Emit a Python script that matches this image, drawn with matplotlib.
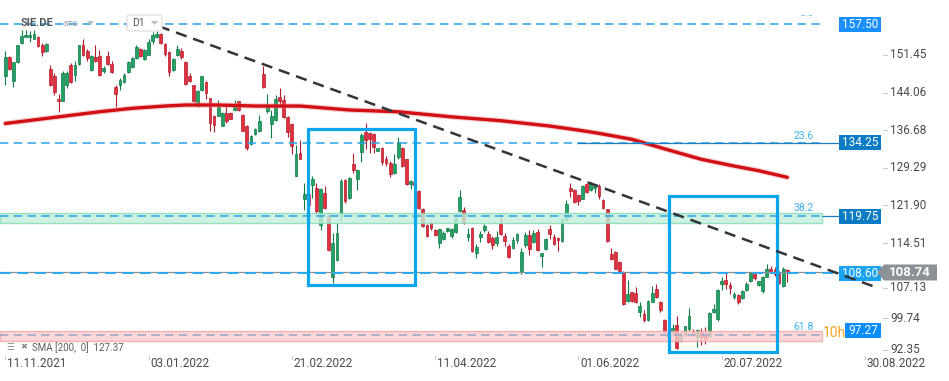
import matplotlib
matplotlib.use("Agg")
import matplotlib.pyplot as plt
import matplotlib.transforms as mtransforms
from matplotlib.patches import Rectangle, Polygon, FancyBboxPatch
import numpy as np

plt.rcParams['font.family'] = ['Roboto', 'DejaVu Sans']

# ---------------- data ----------------
date_labels = ["11.11.2021", "03.01.2022", "21.02.2022", "11.04.2022",
               "01.06.2022", "20.07.2022", "30.08.2022"]
date_label_bars = [0, 35, 70, 105, 140, 175, 210]

opens = [147.27, 151.06, 146.29, 150.0, 153.8, 154.98, 154.92, 154.65, 154.98, 153.48,
         152.17, 148.77, 147.27, 142.9, 142.5, 145.5, 149.56, 147.6, 149.69, 153.48,
         152.17, 148.5, 151.0, 151.3, 148.25, 151.3, 149.75, 145.1, 145.5, 146.1,
         148.1, 149.03, 150.86, 152.63, 150.73, 151.52, 154.13, 154.92, 155.64, 153.67,
         152.04, 148.44, 151.52, 152.3, 150.0, 147.27, 145.64, 142.04, 144.52, 146.16,
         143.02, 139.43, 139.56, 137.6, 140.08, 140.08, 140.67, 142.37, 139.75, 137.6,
         134.0, 136.03, 136.5, 147.8, 140.41, 137.92, 138.64, 143.15, 142.7, 139.23,
         137.82, 127.69, 132.13, 123.11, 124.2, 125.99, 125.27, 118.02, 124.29, 119.85,
         107.95, 111.22, 120.3, 126.84, 123.44, 129.98, 127.04, 132.4, 136.38, 136.19,
         135.86, 132.59, 133.24, 131.09, 130.17, 128.21, 131.41, 133.24, 130.96, 126.19,
         126.51, 124.75, 121.28, 118.02, 118.41, 117.04, 114.62, 115.4, 116.9, 115.92,
         116.71, 120.83, 121.02, 115.79, 117.56, 112.66, 115.79, 117.1, 116.38, 115.6,
         114.62, 118.54, 115.92, 113.96, 113.64, 115.14, 109.06, 114.09, 116.12, 114.75,
         116.77, 112.0, 113.31, 117.36, 115.73, 115.6, 114.94, 119.19, 125.4, 124.88,
         123.9, 123.24, 126.1, 124.95, 125.4, 125.73, 122.92, 121.16, 112.33, 112.79,
         110.83, 108.93, 103.05, 104.82, 104.69, 100.9, 100.57, 99.39, 102.99, 105.47,
         102.99, 99.39, 97.0, 96.97, 98.41, 95.21, 96.52, 97.63, 97.3, 96.0,
         96.97, 96.32, 96.32, 100.9, 99.59, 106.45, 107.3, 106.25, 103.84, 104.29,
         103.64, 105.34, 106.97, 108.41, 106.32, 105.14, 107.95, 109.39, 109.2, 108.87,
         106.0, 109.2]
highs = [152.3, 151.2, 150.1, 153.5, 156.4, 156.4, 156.1, 156.4, 155.2, 153.8,
         153.8, 149.56, 147.9, 143.87, 148.4, 148.4, 149.9, 150.2, 153.5, 154.65,
         152.7, 151.39, 153.5, 152.5, 149.2, 152.17, 150.2, 145.64, 146.94, 147.9,
         150.2, 151.0, 153.35, 152.8, 152.7, 154.65, 155.96, 156.2, 155.77, 153.8,
         152.17, 150.86, 153.35, 152.83, 150.2, 147.9, 145.64, 144.65, 147.27, 146.29,
         143.1, 139.6, 142.7, 140.28, 141.7, 140.28, 142.7, 142.5, 139.88, 137.8,
         135.83, 137.14, 139.62, 149.23, 143.8, 140.73, 143.67, 144.98, 143.54, 139.43,
         138.15, 133.7, 134.75, 126.25, 125.0, 127.69, 126.38, 125.4, 125.73, 120.5,
         116.58, 118.54, 127.17, 127.17, 127.56, 132.26, 129.13, 136.19, 138.02, 136.32,
         136.19, 133.2, 133.44, 131.61, 130.63, 131.94, 135.4, 133.44, 131.09, 126.84,
         126.8, 124.94, 121.48, 118.21, 118.87, 117.23, 117.36, 116.9, 117.56, 117.56,
         120.5, 124.88, 121.68, 117.56, 117.75, 114.29, 116.9, 118.21, 116.9, 115.92,
         116.9, 120.17, 116.58, 114.29, 115.79, 116.58, 113.64, 116.71, 117.04, 117.1,
         117.23, 112.66, 115.6, 118.02, 116.25, 115.79, 119.32, 122.98, 126.38, 125.07,
         124.09, 125.86, 126.4, 126.5, 126.06, 126.06, 123.2, 121.3, 113.64, 112.99,
         111.03, 109.07, 107.24, 104.95, 105.8, 102.86, 101.42, 103.31, 106.12, 106.45,
         103.18, 99.59, 97.5, 98.61, 100.24, 96.97, 98.28, 101.81, 97.63, 97.63,
         97.76, 97.95, 100.9, 102.53, 105.47, 107.95, 108.54, 106.91, 104.82, 104.49,
         105.34, 106.78, 108.87, 108.74, 107.1, 108.08, 110.5, 110.05, 109.8, 109.07,
         109.72, 109.39]
lows = [145.5, 148.6, 145.18, 149.9, 153.6, 154.9, 154.1, 154.6, 152.96, 151.2,
        152.0, 145.3, 143.67, 140.2, 142.37, 145.0, 145.96, 146.3, 149.56, 151.2,
        150.2, 148.4, 150.1, 147.27, 147.9, 149.56, 147.9, 141.2, 144.65, 145.96,
        147.9, 148.9, 150.67, 151.0, 150.54, 151.39, 153.6, 154.8, 153.67, 151.19,
        147.27, 148.25, 151.19, 150.73, 145.64, 146.16, 142.24, 141.19, 144.33, 142.9,
        136.5, 136.3, 139.43, 137.47, 138.12, 138.84, 140.54, 140.54, 136.5, 132.7,
        133.74, 135.83, 136.35, 144.98, 140.08, 135.18, 138.45, 141.7, 139.1, 135.3,
        131.94, 127.69, 130.96, 121.02, 121.5, 123.44, 120.5, 117.1, 121.15, 112.98,
        106.64, 111.02, 118.87, 122.46, 123.24, 128.34, 124.94, 130.43, 132.92, 132.26,
        132.13, 132.5, 129.78, 129.65, 127.56, 128.02, 130.96, 129.45, 125.86, 125.07,
        125.6, 121.28, 117.75, 115.79, 117.1, 115.92, 113.64, 115.14, 116.6, 115.6,
        116.58, 120.63, 118.21, 114.94, 112.79, 111.68, 114.75, 116.71, 114.49, 113.44,
        113.96, 116.05, 113.96, 111.68, 113.44, 114.62, 108.41, 113.83, 112.13, 114.49,
        112.98, 109.91, 113.18, 115.4, 114.09, 112.98, 114.75, 118.87, 123.64, 122.46,
        121.94, 123.11, 124.3, 124.8, 124.3, 123.1, 121.3, 114.8, 111.22, 109.39,
        108.87, 102.33, 102.86, 102.99, 102.73, 99.92, 98.93, 99.26, 102.86, 103.64,
        101.03, 96.84, 95.5, 96.65, 93.71, 95.14, 96.32, 97.3, 96.32, 94.03,
        94.56, 94.69, 96.12, 100.76, 99.26, 105.34, 105.47, 104.49, 103.51, 102.53,
        103.51, 105.14, 106.78, 107.3, 106.12, 104.69, 107.82, 108.61, 108.0, 106.45,
        105.8, 106.9]
closes = [151.06, 148.71, 150.08, 153.48, 155.24, 155.44, 155.44, 155.64, 153.22, 152.04,
          153.67, 145.5, 144.2, 142.37, 147.9, 147.9, 146.16, 149.56, 153.48, 151.39,
          150.86, 151.2, 150.2, 147.6, 148.9, 149.7, 148.05, 143.87, 146.6, 147.47,
          150.0, 150.86, 153.02, 151.19, 152.5, 154.0, 155.44, 155.64, 153.8, 151.71,
          148.05, 150.73, 152.7, 151.0, 145.77, 146.29, 142.37, 144.33, 147.27, 144.0,
          138.12, 137.8, 141.19, 140.08, 138.45, 138.97, 141.19, 140.67, 136.6, 133.1,
          135.63, 136.94, 138.45, 145.18, 141.19, 139.56, 142.82, 142.5, 139.23, 136.29,
          133.57, 131.94, 131.09, 124.09, 122.0, 127.17, 120.83, 125.07, 121.48, 113.18,
          114.49, 116.58, 126.71, 122.79, 127.36, 128.87, 128.8, 135.66, 134.75, 135.01,
          133.38, 133.11, 130.43, 130.3, 128.02, 129.98, 134.42, 129.65, 126.05, 126.64,
          125.86, 121.48, 117.88, 115.92, 117.56, 116.12, 117.23, 116.58, 117.43, 117.23,
          119.52, 123.57, 118.41, 116.25, 112.98, 113.77, 116.25, 117.88, 114.75, 114.09,
          115.79, 116.25, 114.94, 111.87, 115.14, 116.38, 112.79, 116.05, 113.44, 116.58,
          113.18, 112.53, 115.27, 116.25, 114.29, 115.14, 119.19, 122.13, 124.75, 122.59,
          122.79, 125.73, 124.5, 126.06, 125.73, 123.77, 121.48, 114.95, 111.48, 109.52,
          109.07, 102.53, 104.49, 103.18, 102.86, 102.2, 99.46, 103.12, 104.62, 103.84,
          101.42, 97.3, 96.0, 97.76, 93.84, 96.52, 98.15, 100.18, 96.84, 97.43,
          96.12, 95.67, 100.76, 101.55, 105.27, 107.1, 106.45, 105.67, 104.49, 102.99,
          105.14, 106.39, 108.61, 107.56, 107.1, 107.76, 109.39, 108.74, 108.4, 106.65,
          109.52, 108.74]

sma_bars = [0, 7, 15, 23, 31, 39, 44, 52, 58, 61, 70, 72, 84, 96, 109, 121, 133, 140,
            145, 153, 162, 170, 178, 184, 191]
sma_vals = [138.0, 138.7, 139.5, 140.3, 140.98, 141.43, 141.63, 141.63, 141.5, 141.43,
            141.43, 141.43, 140.65, 140.3, 139.3, 138.55, 137.5, 136.7, 136.07, 134.9,
            132.8, 130.97, 129.65, 128.73, 127.43]
sma_last = 127.37

y_ticks = [151.45, 144.06, 136.68, 129.29, 121.90, 114.51, 107.13, 99.74, 92.35]
fib_levels = [157.50, 134.25, 119.75, 96.4]
fib_names = ["0.0", "23.6", "38.2", "61.8"]
tag_levels = [157.50, 134.25, 119.75, 108.60, 97.27]
last_price = 108.74
trend_bars = [37.5, 212.8]
trend_prices = [157.1, 105.8]

# ---------------- layout ----------------
W, H = 949, 381
PX, X0 = 4.094, 5.3          # pixels per bar, pixel of bar 0
PPU = 5.092                  # pixels per price unit


def bx(px):
    return (px - X0) / PX


fig = plt.figure(figsize=(W / 100, H / 100), dpi=100)
fig.patch.set_facecolor('white')
ax = fig.add_axes([0, 25 / H, 1, 356 / H])
ax.set_xlim(bx(0), bx(W))
ax.set_ylim(151.45 - 301 / PPU, 151.45 + 55 / PPU)
ax.axis('off')

blend = mtransforms.blended_transform_factory(ax.transAxes, ax.transData)
blend_x = mtransforms.blended_transform_factory(ax.transData, ax.transAxes)

# ---------------- candles ----------------
o = np.array(opens); h = np.array(highs); l = np.array(lows); c = np.array(closes)
idx = np.arange(len(o))
up = c >= o
G_FACE, G_EDGE = '#22a266', '#0f7a45'
R_FACE, R_EDGE = '#e3303f', '#b31b2c'
face = np.where(up, G_FACE, R_FACE)
edge = np.where(up, G_EDGE, R_EDGE)
ax.vlines(idx, l, h, colors=edge, lw=0.8, zorder=2)
ax.bar(idx, np.maximum(np.abs(c - o), 0.15), bottom=np.minimum(o, c), width=0.68,
       color=face, edgecolor=edge, linewidth=0.5, zorder=2.1)

# ---------------- bands ----------------
ax.add_patch(Rectangle((bx(0), 118.5), bx(822) - bx(0), 2.0, fc='#c2efdc', ec='#86dbb8',
                       lw=1.0, alpha=0.82, zorder=3))
ax.add_patch(Rectangle((bx(0), 95.35), bx(822) - bx(0), 1.9, fc='#fccfcf', ec='#f4a6a6',
                       lw=1.0, alpha=0.82, zorder=3))

# ---------------- SMA ----------------
ax.plot(sma_bars, sma_vals, color='#ee8888', lw=4.0, alpha=0.4, zorder=3.4,
        solid_capstyle='round')
ax.plot(sma_bars, sma_vals, color='#d10f14', lw=2.4, zorder=3.5, solid_capstyle='round')

# ---------------- fib dashed lines ----------------
for lev, name in zip(fib_levels, fib_names):
    col = '#9aa6c6' if name == "61.8" else '#27a2e6'
    ax.hlines(lev, bx(0), bx(822), colors=col, lw=1.1, linestyles=(0, (5.5, 3.5)), zorder=4)
ax.text(bx(804), 135.6, "23.6", color='#3db0f0', fontsize=7.5, ha='center', va='center', zorder=4)
ax.text(bx(804), 121.35, "38.2", color='#3db0f0', fontsize=7.5, ha='center', va='center', zorder=4)
ax.text(bx(804), 98.1, "61.8", color='#3db0f0', fontsize=7.5, ha='center', va='center', zorder=4)
t0 = fig.text(807 / W, 1 - 13 / H, "0.0", color='#5cbdf2', fontsize=7.5, ha='center', va='center')
t0.set_clip_box(mtransforms.Bbox.from_extents(0, 0, W, H - 15))
t0.set_clip_on(True)

# solid horizontal lines
ax.hlines(134.25, bx(577), bx(840), colors='#1b7fc3', lw=0.9, zorder=4)
ax.hlines(119.75, bx(822), bx(840), colors='#1b7fc3', lw=0.9, zorder=4)
ax.hlines(last_price, bx(0), bx(840), colors='#8a8f94', lw=0.9, zorder=3.8)
ax.hlines(108.60, bx(0), bx(840), colors='#2aaaf0', lw=1.4, linestyles=(0, (5.5, 3.5)), zorder=3.9)

# ---------------- highlight boxes ----------------
ax.add_patch(Rectangle((73.9, 106.28), 100.1 - 73.9, 136.86 - 106.28, fill=False,
                       ec='#0ba6ee', lw=2.3, zorder=5))
ax.add_patch(Rectangle((162.2, 93.12), 188.4 - 162.2, 123.76 - 93.12, fill=False,
                       ec='#0ba6ee', lw=2.3, zorder=5))

# ---------------- right axis ----------------
for t in y_ticks:
    if t < 93.5:
        yy = 151.45 - 295 / PPU
    elif abs(t - 107.13) < 0.01:
        yy = 151.45 - 232.5 / PPU   # mostly tucked under the last-price tag
    else:
        yy = t
    ax.text(890 / W, yy, f"{t:.2f}", transform=blend, ha='left', va='center',
            fontsize=8.5, color='#4a4a4a', zorder=6)
    ax.plot([883 / W, 887 / W], [yy, yy], transform=blend, color='#cccccc', lw=0.8, zorder=6)

tag_colors = ['#1a8fff', '#0b7cc4', '#0b7cc4', '#19a3f0', '#0a8dff']
tag_left = [839, 839, 839, 839, 845]
th = 15 / PPU
for lev, col, xl in zip(tag_levels, tag_colors, tag_left):
    ax.add_patch(Rectangle((xl / W, lev - th / 2), (881 - xl) / W, th, transform=blend,
                           fc=col, ec='none', zorder=7))
    ax.text((xl + 881) / 2 / W, lev, f"{lev:.2f}", transform=blend, ha='center', va='center',
            fontsize=8.5, color='white', zorder=8)

gh = 16 / PPU
ax.add_patch(Polygon([(877 / W, last_price), (884 / W, last_price + gh / 2),
                      (937 / W, last_price + gh / 2), (937 / W, last_price - gh / 2),
                      (884 / W, last_price - gh / 2)], closed=True, transform=blend,
                     fc='#8b9196', ec='none', zorder=7))
ax.text(910 / W, last_price, f"{last_price:.2f}", transform=blend, ha='center', va='center',
        fontsize=9.5, fontweight='bold', color='white', zorder=8)

ax.text(823 / W, 96.9, "10h", transform=blend, ha='left', va='center', fontsize=10,
        color='#f5a01f', zorder=6)

# ---------------- trend line ----------------
ax.plot(trend_bars, trend_prices, color='#2f353b', lw=1.8, ls=(0, (4.5, 2.8)), zorder=9)

# ---------------- x axis labels ----------------
for pos, lab in zip(date_label_bars, date_labels):
    ax.text(pos + 0.4, -0.02, lab, transform=blend_x, ha='left', va='center',
            fontsize=8.5, color='#4a4a4a', clip_on=False)
    ax.plot([pos, pos], [0.0, -0.009], transform=blend_x, color='#cccccc', lw=0.8,
            clip_on=False)

# ---------------- header / legend ----------------
fig.text(21 / W, 1 - 23 / H, "SIE.DE", fontsize=8, fontweight='bold', color='#50555a',
         va='center', ha='left')
fig.text(64 / W, 1 - 23.5 / H, "STC", fontsize=5.5, fontweight='bold', color='#a3a8ad',
         va='center', ha='left')
fig.add_artist(Polygon([(87 / W, 1 - 21 / H), (94 / W, 1 - 21 / H), (90.5 / W, 1 - 25 / H)],
                       closed=True, transform=fig.transFigure, fc='#b8bcc0', ec='none'))
fig.add_artist(FancyBboxPatch((127 / W, 1 - 31 / H), 35 / W, 16 / H,
                              boxstyle='round,pad=0,rounding_size=0.004',
                              transform=fig.transFigure, fc='white', ec='#d9dbde', lw=0.8,
                              zorder=10))
fig.text(132 / W, 1 - 23 / H, "D1", fontsize=7.5, color='#50555a', va='center', ha='left',
         zorder=11)
fig.add_artist(Polygon([(151 / W, 1 - 21 / H), (158 / W, 1 - 21 / H), (154.5 / W, 1 - 25 / H)],
                       closed=True, transform=fig.transFigure, fc='#b8bcc0', ec='none',
                       zorder=11))

fig.text(6 / W, 1 - 347 / H, "\u2630", family=['DejaVu Sans'], fontsize=6.5, color='#8a8f94',
         va='center', ha='left')
fig.text(20 / W, 1 - 347 / H, "\u2716", family=['DejaVu Sans'], fontsize=6, color='#8a8f94',
         va='center', ha='left')
fig.text(32 / W, 1 - 348 / H, f"SMA [200,  0]  {sma_last:.2f}", fontsize=7, color='#5a5f64',
         va='center', ha='left')

fig.savefig("out.png", dpi=100, facecolor='white')
